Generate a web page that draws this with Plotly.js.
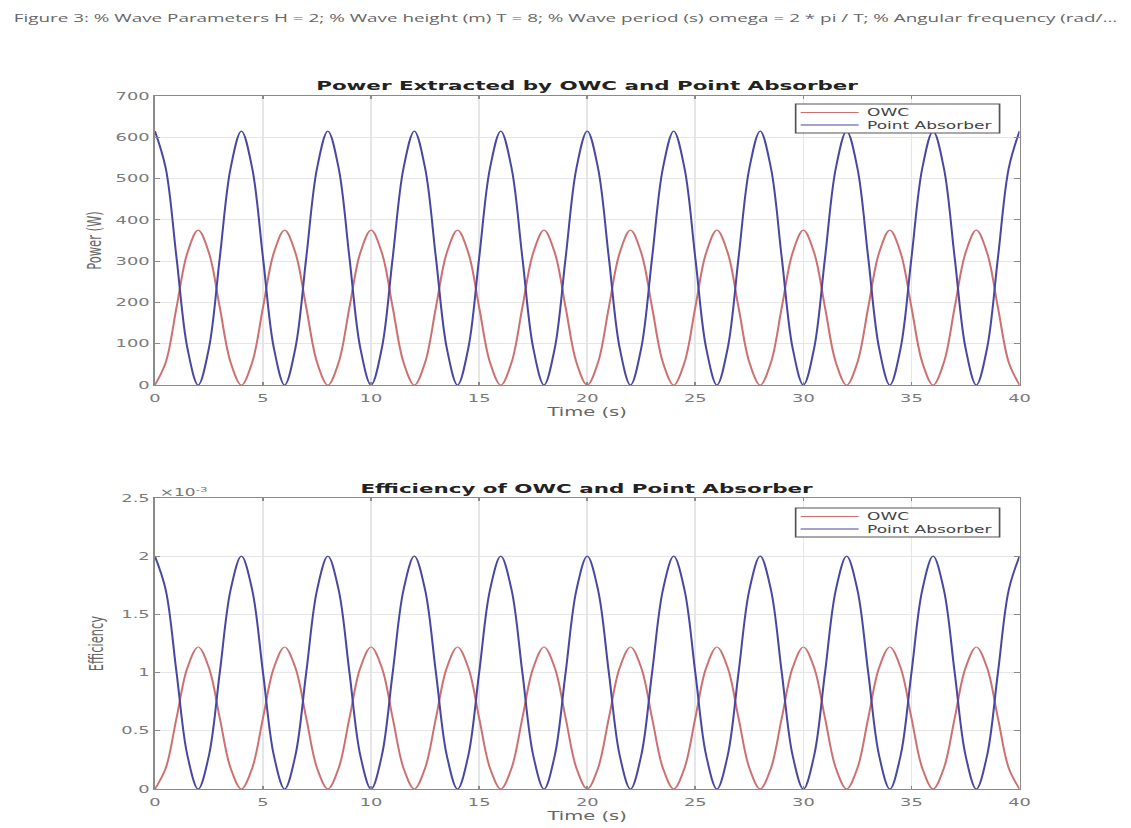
<!DOCTYPE html>
<html>
<head>
<meta charset="utf-8">
<script src="https://cdn.plot.ly/plotly-3.0.1.min.js"></script>
<style>
html,body{margin:0;padding:0;background:#fff;overflow:hidden;}
#wrap{width:1131px;height:828px;overflow:hidden;}
#chart{height:828px;transform-origin:0 0;}
</style>
</head>
<body>
<div id="wrap"><div id="chart"></div></div>
<script>
// Time samples (s)
var time = [0,0.5,1,1.5,2,2.5,3,3.5,4,4.5,5,5.5,6,6.5,7,7.5,8,8.5,9,9.5,10,10.5,11,11.5,12,12.5,13,13.5,14,14.5,15,15.5,16,16.5,17,17.5,18,18.5,19,19.5,20,20.5,21,21.5,22,22.5,23,23.5,24,24.5,25,25.5,26,26.5,27,27.5,28,28.5,29,29.5,30,30.5,31,31.5,32,32.5,33,33.5,34,34.5,35,35.5,36,36.5,37,37.5,38,38.5,39,39.5,40];

// Power (W)
var owcPower = [0,55,188,320,375,320,188,55,0,55,188,320,375,320,188,55,0,55,188,320,375,320,188,55,0,55,188,320,375,320,188,55,0,55,188,320,375,320,188,55,0,55,188,320,375,320,188,55,0,55,188,320,375,320,188,55,0,55,188,320,375,320,188,55,0,55,188,320,375,320,188,55,0,55,188,320,375,320,188,55,0];
var paPower = [615,525,308,90,0,90,308,525,615,525,308,90,0,90,308,525,615,525,308,90,0,90,308,525,615,525,308,90,0,90,308,525,615,525,308,90,0,90,308,525,615,525,308,90,0,90,308,525,615,525,308,90,0,90,308,525,615,525,308,90,0,90,308,525,615,525,308,90,0,90,308,525,615,525,308,90,0,90,308,525,615];

// Efficiency
var owcEff = [0,0.00018,0.00061,0.00104,0.00122,0.00104,0.00061,0.00018,0,0.00018,0.00061,0.00104,0.00122,0.00104,0.00061,0.00018,0,0.00018,0.00061,0.00104,0.00122,0.00104,0.00061,0.00018,0,0.00018,0.00061,0.00104,0.00122,0.00104,0.00061,0.00018,0,0.00018,0.00061,0.00104,0.00122,0.00104,0.00061,0.00018,0,0.00018,0.00061,0.00104,0.00122,0.00104,0.00061,0.00018,0,0.00018,0.00061,0.00104,0.00122,0.00104,0.00061,0.00018,0,0.00018,0.00061,0.00104,0.00122,0.00104,0.00061,0.00018,0,0.00018,0.00061,0.00104,0.00122,0.00104,0.00061,0.00018,0,0.00018,0.00061,0.00104,0.00122,0.00104,0.00061,0.00018,0];
var paEff = [0.002,0.00171,0.001,0.00029,0,0.00029,0.001,0.00171,0.002,0.00171,0.001,0.00029,0,0.00029,0.001,0.00171,0.002,0.00171,0.001,0.00029,0,0.00029,0.001,0.00171,0.002,0.00171,0.001,0.00029,0,0.00029,0.001,0.00171,0.002,0.00171,0.001,0.00029,0,0.00029,0.001,0.00171,0.002,0.00171,0.001,0.00029,0,0.00029,0.001,0.00171,0.002,0.00171,0.001,0.00029,0,0.00029,0.001,0.00171,0.002,0.00171,0.001,0.00029,0,0.00029,0.001,0.00171,0.002,0.00171,0.001,0.00029,0,0.00029,0.001,0.00171,0.002,0.00171,0.001,0.00029,0,0.00029,0.001,0.00171,0.002];

var xTicks = [0,5,10,15,20,25,30,35,40];
var powerTicks = [0,100,200,300,400,500,600,700];
var effTicks = [0,0.0005,0.001,0.0015,0.002,0.0025];
var effTickText = ['0','0.5','1','1.5','2','2.5'];

var seriesNames = ['OWC','Point Absorber'];
var titles = ['Power Extracted by OWC and Point Absorber','Efficiency of OWC and Point Absorber'];
var header = 'Figure 3: % Wave Parameters H = 2; % Wave height (m) T = 8; % Wave period (s) omega = 2 * pi / T; % Angular frequency (rad/...';

// The reference picture is stretched horizontally; reproduce that stretch.
var SX = 1.7;
var W = 1131, H = 828;
var W0 = W / SX;
var chartDiv = document.getElementById('chart');
chartDiv.style.width = W0 + 'px';
chartDiv.style.transform = 'scaleX(' + SX + ')';

var red = '#cc7070', blue = '#4848a2';
var colors = [red, blue];
function px(v){return v/W;}
function py(v){return 1 - v/H;}

function mk(x, y, name, color, xa, ya){
  return {x:x, y:y, name:name, mode:'lines', xaxis:xa, yaxis:ya, showlegend:false,
    line:{shape:'spline', smoothing:1, width:1.2, color:color}};
}
var traces = [
  mk(time, owcPower, seriesNames[0], red, 'x', 'y'),
  mk(time, paPower, seriesNames[1], blue, 'x', 'y'),
  mk(time, owcEff, seriesNames[0], red, 'x2', 'y2'),
  mk(time, paEff, seriesNames[1], blue, 'x2', 'y2')
];

var tickFont = {family:'DejaVu Sans', size:10.5, color:'#7a7a7a'};
var axisBase = {
  showline:true, linecolor:'#8a8a8a', linewidth:1, mirror:'ticks',
  ticks:'inside', ticklen:3, tickcolor:'#8a8a8a',
  showgrid:true, gridcolor:'#e6e6e6', gridwidth:1,
  zeroline:false, tickfont:tickFont
};
function ax(o){return Object.assign({}, axisBase, o);}
var xTitleFont = {family:'DejaVu Sans', size:11.5, color:'#666'};
var yTitleFont = {family:'DejaVu Sans', size:11.5, color:'#666'};

// Compact boxed legends (MATLAB style), one per panel
var shapes = [], annotations = [];
function addLegend(top){
  var left = 796, right = 1000, bottom = top + 29;
  shapes.push({type:'rect', xref:'paper', yref:'paper', layer:'above',
    x0:px(left), x1:px(right), y0:py(bottom), y1:py(top),
    fillcolor:'#fff', line:{color:'#555', width:1}});
  for (var i = 0; i < seriesNames.length; i++){
    var yy = top + 8.5 + i * 12.5;
    shapes.push({type:'line', xref:'paper', yref:'paper', layer:'above',
      x0:px(801), x1:px(859), y0:py(yy), y1:py(yy), line:{color:colors[i], width:1}});
    annotations.push({text:seriesNames[i], xref:'paper', yref:'paper', x:px(864), y:py(yy),
      xanchor:'left', yanchor:'middle', showarrow:false,
      font:{family:'DejaVu Sans', size:10, color:'#444'}});
  }
}
addLegend(104);
addLegend(508);

annotations.push(
  {text:header, xref:'paper', yref:'paper', x:px(10), y:py(18), xanchor:'left', yanchor:'middle', showarrow:false,
   font:{family:'Open Sans', size:11.1, color:'#666'}},
  {text:titles[0], xref:'paper', yref:'paper', x:px(587), y:py(85), xanchor:'center', yanchor:'middle', showarrow:false,
   font:{family:'DejaVu Sans', size:12.6, color:'#222', weight:'bold'}},
  {text:titles[1], xref:'paper', yref:'paper', x:px(587), y:py(489), xanchor:'center', yanchor:'middle', showarrow:false,
   font:{family:'DejaVu Sans', size:12.6, color:'#222', weight:'bold'}},
  {text:'×10<sup>-3</sup>', xref:'paper', yref:'paper', x:px(157), y:py(492), xanchor:'left', yanchor:'middle', showarrow:false,
   font:{family:'DejaVu Sans', size:10, color:'#777'}}
);

var layout = {
  width:W0, height:H,
  margin:{l:0,r:0,t:0,b:0},
  paper_bgcolor:'#fff', plot_bgcolor:'#fff',
  showlegend:false,
  xaxis: ax({domain:[px(155),px(1020)], range:[0,40], tickvals:xTicks, anchor:'y', ticklabelstandoff:3,
    title:{text:'Time (s)', font:xTitleFont, standoff:5}}),
  yaxis: ax({domain:[py(385),py(96)], range:[0,700], tickvals:powerTicks, anchor:'x',
    title:{text:'Power (W)', font:yTitleFont, standoff:5}}),
  xaxis2: ax({domain:[px(155),px(1020)], range:[0,40], tickvals:xTicks, anchor:'y2', ticklabelstandoff:3,
    title:{text:'Time (s)', font:xTitleFont, standoff:5}}),
  yaxis2: ax({domain:[py(789),py(498)], range:[0,0.0025], tickvals:effTicks, ticktext:effTickText, anchor:'x2',
    title:{text:'Efficiency', font:yTitleFont, standoff:7}}),
  shapes:shapes,
  annotations:annotations
};

Plotly.newPlot('chart', traces, layout, {displayModeBar:false, staticPlot:true});
</script>
</body>
</html>
